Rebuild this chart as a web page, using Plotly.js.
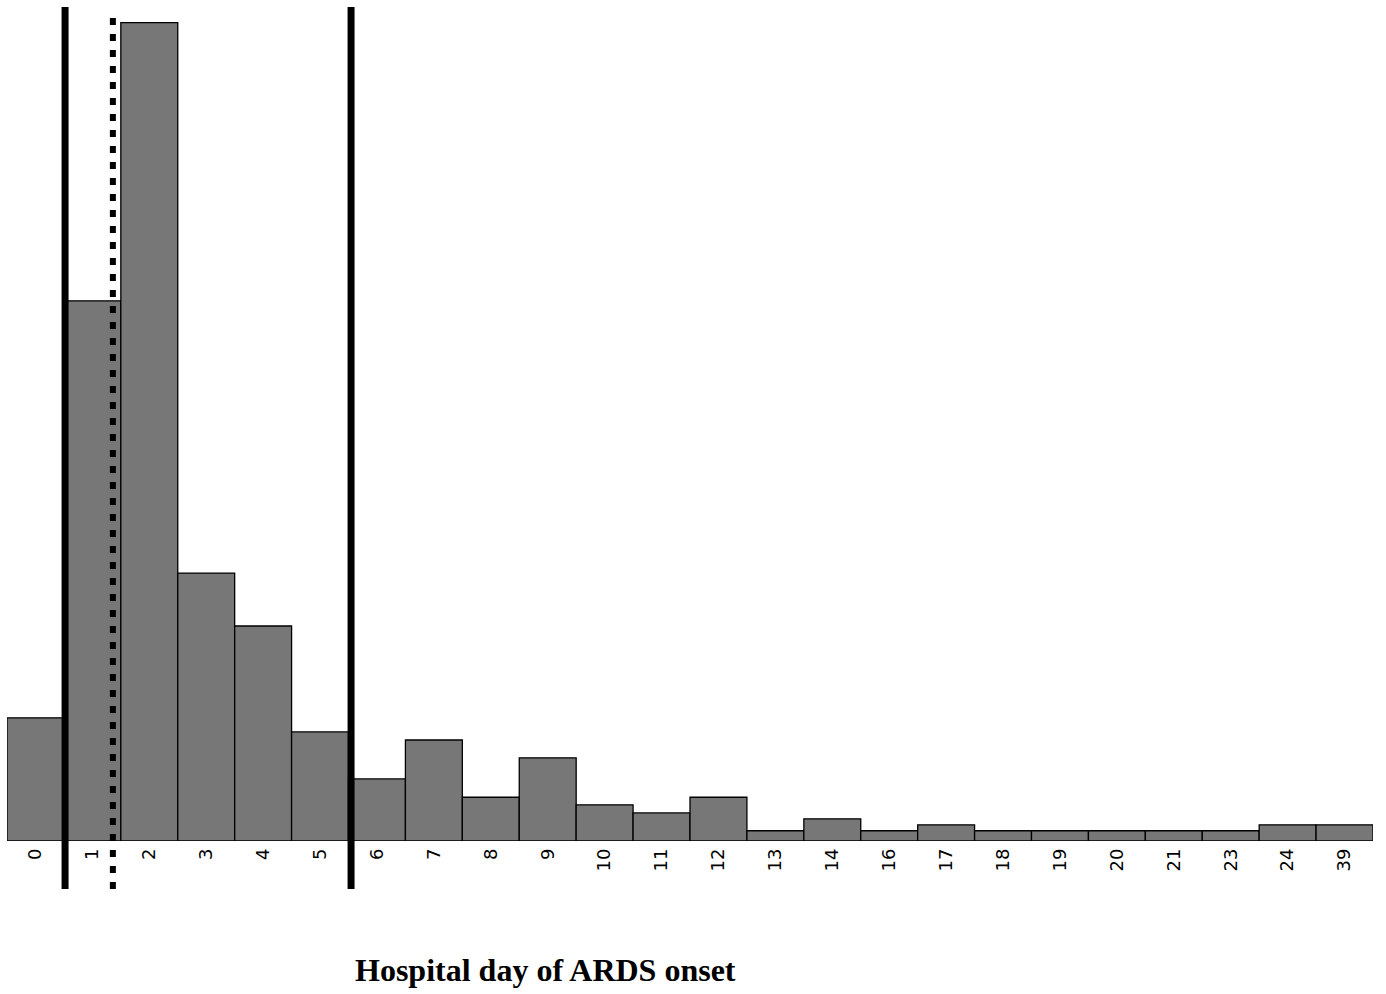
<!DOCTYPE html>
<html>
<head>
<meta charset="utf-8">
<script src="https://cdn.plot.ly/plotly-3.0.1.min.js"></script>
<style>
  html, body { margin: 0; padding: 0; background: #ffffff; }
  #chart { width: 1386px; height: 994px; }
</style>
</head>
<body>
<div id="chart"></div>
<script>
// Hospital day of ARDS onset (category labels)
var days = ["0","1","2","3","4","5","6","7","8","9","10","11","12","13","14","16","17","18","19","20","21","23","24","39"];
// Bar heights (relative frequency)
var counts = [22.8, 100, 151.5, 49.6, 39.8, 20.2, 11.5, 18.7, 8.1, 15.4, 6.7, 5.2, 8.1, 1.9, 4.1, 1.9, 3.0, 1.9, 1.9, 1.9, 1.9, 1.9, 3.0, 3.0];
// Vertical reference lines (category-index positions on the x axis)
var solidLineDays = [0.52, 5.545];
var dottedLineDays = [1.36];
var axisTitle = "Hospital day of ARDS onset";

var shapes = [];
solidLineDays.forEach(function (d) {
  shapes.push({
    type: "line", xref: "x", yref: "paper",
    x0: d, x1: d, y0: -0.0576, y1: 1.0,
    line: { color: "#000000", width: 7 }
  });
});
dottedLineDays.forEach(function (d) {
  shapes.push({
    type: "line", xref: "x", yref: "paper",
    x0: d, x1: d, y0: -0.0576, y1: 0.997,
    line: { color: "#000000", width: 6, dash: "7px,9px" }
  });
});

var trace = {
  type: "bar",
  x: days,
  y: counts,
  marker: { color: "#777777", line: { color: "#000000", width: 1.3 } },
  hoverinfo: "x+y"
};

var layout = {
  width: 1386,
  height: 994,
  margin: { l: 7, r: 13, t: 7, b: 153, pad: 0 },
  paper_bgcolor: "#ffffff",
  plot_bgcolor: "#ffffff",
  showlegend: false,
  bargap: 0,
  xaxis: {
    type: "category",
    range: [-0.5, 23.5],
    showgrid: false,
    zeroline: false,
    showline: false,
    ticks: "",
    tickangle: -90,
    ticklabelstandoff: 3,
    tickfont: { family: "DejaVu Sans, Arial, sans-serif", size: 18, color: "#000000" },
    fixedrange: true
  },
  yaxis: {
    range: [0, 154.4],
    visible: false,
    showgrid: false,
    zeroline: false,
    fixedrange: true
  },
  shapes: shapes,
  annotations: [{
    text: "<b>" + axisTitle + "</b>",
    xref: "paper", yref: "paper",
    x: 0.394, y: -0.155,
    xanchor: "center", yanchor: "middle",
    showarrow: false,
    font: { family: "Liberation Serif, Times New Roman, serif", size: 32, color: "#000000" }
  }]
};

Plotly.newPlot("chart", [trace], layout, { displayModeBar: false, staticPlot: true });
</script>
</body>
</html>
